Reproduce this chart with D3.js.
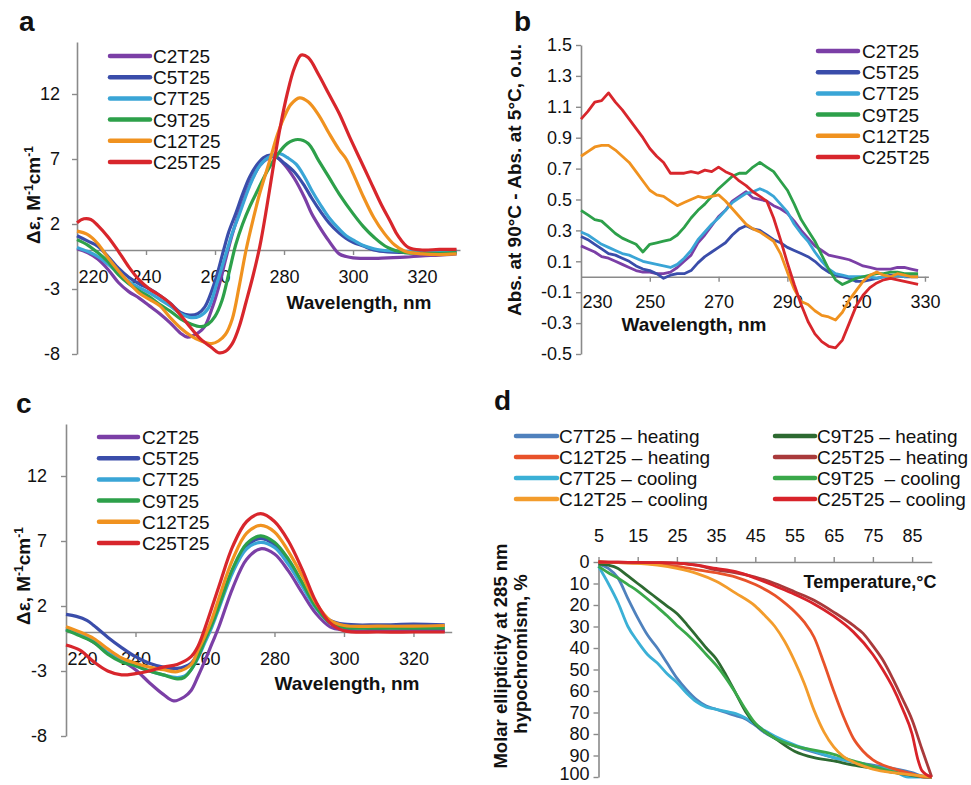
<!DOCTYPE html>
<html><head><meta charset="utf-8">
<script src="https://cdn.jsdelivr.net/npm/d3@7"></script>
<style>
body{margin:0;background:#fff;}
text{font-family:"Liberation Sans",Arial,sans-serif;fill:#111;}
</style></head><body>
<svg id="chart" width="971" height="785"></svg>
<script>
// ---------------- DATA ----------------
const seriesNames = ["C2T25","C5T25","C7T25","C9T25","C12T25","C25T25"];
const seriesColors = ["#7B3FA6","#3A4DAA","#3AA5D6","#2DA04A","#F0921F","#D8262C"];

// Panel a : CD spectra [wavelength nm, Δε]
const aC2T25 = [[220,0.1],[223,-0.2],[226,-0.7],[229,-1.5],[232,-2.5],[235,-3.2],[238,-3.7],[241,-4.3],[244,-4.9],[247,-5.6],[250,-6.4],[252,-6.7],[255,-6.4],[257,-5.9],[259,-4.6],[261,-2.9],[263,-0.8],[265,1.2],[267,2.9],[269,4.4],[271,5.6],[273,6.5],[275,7.0],[277.5,7.2],[280,6.6],[283,5.5],[286,4.0],[288,2.8],[290,1.9],[293,0.7],[296,-0.3],[298,-0.5],[300,-0.6],[305,-0.65],[310,-0.6],[315,-0.55],[320,-0.45],[325,-0.4],[330,-0.3]];
const aC5T25 = [[220,1.1],[223,0.7],[226,0.3],[229,-0.5],[232,-1.4],[235,-2.1],[238,-2.6],[241,-3.0],[244,-3.5],[247,-4.1],[250,-4.8],[252.5,-5.0],[255,-4.9],[257,-4.4],[260,-2.4],[262.5,0],[264,1.4],[266,2.8],[268,4.3],[270,5.6],[272,6.5],[274,7.1],[276,7.3],[278,7.1],[280,6.7],[283,6.0],[286,4.9],[288,4.0],[291,2.8],[293,2.1],[296,1.3],[298,0.9],[300,0.6],[303,0.3],[306,0],[310,-0.15],[320,-0.2],[330,-0.15]];
const aC7T25 = [[220,0.2],[223,-0.1],[226,-0.5],[229,-1.1],[232,-1.8],[235,-2.4],[238,-2.9],[241,-3.3],[244,-3.8],[247,-4.3],[250,-4.9],[253,-5.2],[255.5,-5.1],[258,-4.5],[260.5,-2.6],[263.5,0],[265,1.3],[267,2.7],[270,4.9],[273,6.5],[276,7.2],[279,7.4],[281,7.1],[283.5,6.6],[286,5.6],[288,4.6],[290.5,3.5],[293,2.5],[296,1.6],[298,1.1],[300.5,0.7],[303,0.35],[306,0.1],[308,0],[315,-0.1],[320,-0.1],[330,-0.05]];
const aC9T25 = [[220,0.8],[223,0.4],[226,-0.2],[229,-0.9],[232,-1.9],[235,-2.6],[238,-3.15],[241,-3.6],[244,-4.2],[247,-4.7],[250,-5.3],[253,-5.7],[256,-5.9],[258,-5.7],[260,-5.1],[262,-3.9],[264,-1.8],[266,0.4],[268,2.0],[270,3.3],[272,4.4],[275,6.0],[278,7.3],[281,8.2],[284,8.5],[287,8.2],[290,6.9],[293,5.6],[296,4.3],[300,2.8],[303,1.8],[306,1.0],[310,0.2],[315,-0.2],[320,-0.25],[325,-0.25],[330,-0.2]];
const aC12T25 = [[220,1.45],[223,1.2],[226,0.5],[229,-0.6],[232,-1.6],[235,-2.5],[238,-3.3],[241,-3.8],[244,-4.3],[247,-5.2],[250,-6.0],[253,-6.6],[256,-7.0],[259,-7.2],[261,-7.0],[263,-6.5],[265,-5.3],[267,-2.8],[269,0],[271,2.3],[273,4.4],[276,7.0],[278,8.8],[280,10.2],[282,11.2],[284.5,11.7],[287,11.4],[290,10.4],[293,9.0],[296,7.7],[298,7.0],[300,5.9],[303,4.1],[306,2.5],[309,1.3],[312,0.4],[315,-0.1],[320,-0.3],[325,-0.35],[330,-0.3]];
const aC25T25 = [[220,2.1],[222,2.4],[224,2.35],[226,1.9],[229,1.0],[232,-0.1],[235,-1.3],[238,-2.3],[241,-3.0],[244,-3.5],[247,-4.1],[250,-5.0],[253,-6.0],[256,-6.9],[259,-7.5],[261,-7.9],[263,-7.8],[265,-7.2],[267,-5.9],[269,-4.0],[271,-2.0],[273,0.3],[275,3.3],[277,6.6],[279,9.6],[281,12.1],[283,14.0],[285,15.0],[287,14.8],[290,13.5],[293,12.0],[296,10.5],[299,8.7],[302,7.0],[305,5.3],[308,3.6],[311,2.1],[313,1.1],[316,0.2],[320,0],[325,0.05],[330,0.05]];

// Panel b : absorbance difference (90°C − 5°C), shared wavelength grid
const waveB = [230,232,234,236,238,240,242,244,246,248,250,252,254,256,258,260,262,264,266,268,270,272,274,276,278,280,282,284,286,288,290,292,294,296,298,300,302,304,306,308,310,312,314,316,318,320,322,324,326,328];
const bC2T25 = [0.20,0.18,0.16,0.13,0.12,0.10,0.08,0.06,0.04,0.03,0.03,0.02,0.02,0.03,0.06,0.10,0.14,0.22,0.27,0.33,0.39,0.43,0.49,0.52,0.55,0.51,0.50,0.49,0.46,0.44,0.41,0.36,0.30,0.25,0.20,0.17,0.14,0.13,0.12,0.11,0.09,0.07,0.06,0.05,0.05,0.05,0.06,0.06,0.05,0.04];
const bC5T25 = [0.26,0.24,0.21,0.18,0.15,0.14,0.12,0.10,0.07,0.05,0.04,0.02,-0.01,0.01,0.02,0.02,0.04,0.09,0.13,0.16,0.19,0.22,0.27,0.31,0.33,0.31,0.30,0.27,0.24,0.22,0.19,0.17,0.15,0.13,0.10,0.06,0.03,0.01,0.00,-0.01,-0.03,-0.03,-0.02,-0.01,0.00,0.01,0.01,0.00,0.00,0.00];
const bC7T25 = [0.29,0.27,0.24,0.21,0.19,0.17,0.15,0.14,0.12,0.10,0.09,0.08,0.07,0.06,0.08,0.12,0.17,0.24,0.29,0.34,0.38,0.43,0.48,0.51,0.54,0.55,0.57,0.55,0.52,0.47,0.42,0.34,0.28,0.23,0.16,0.10,0.05,0.02,0.01,0.00,0.00,0.00,0.00,-0.01,0.00,0.00,0.01,0.00,0.01,0.00];
const bC9T25 = [0.43,0.40,0.37,0.36,0.32,0.28,0.25,0.23,0.21,0.16,0.21,0.22,0.23,0.24,0.27,0.32,0.38,0.43,0.47,0.52,0.57,0.61,0.65,0.67,0.67,0.71,0.74,0.71,0.68,0.62,0.56,0.47,0.37,0.30,0.23,0.14,0.05,-0.02,-0.05,-0.03,-0.01,0.00,0.01,0.02,0.02,0.03,0.03,0.02,0.02,0.02];
const bC12T25 = [0.78,0.81,0.84,0.85,0.85,0.82,0.78,0.74,0.68,0.62,0.56,0.53,0.52,0.49,0.46,0.48,0.50,0.52,0.51,0.52,0.53,0.49,0.44,0.39,0.34,0.31,0.29,0.26,0.23,0.15,0.03,-0.08,-0.16,-0.18,-0.22,-0.25,-0.26,-0.28,-0.23,-0.15,-0.09,-0.03,0.01,0.03,0.01,0.00,0.02,0.01,0.00,0.00];
const bC25T25 = [1.02,1.07,1.13,1.14,1.19,1.13,1.08,1.02,0.96,0.90,0.83,0.78,0.74,0.67,0.67,0.67,0.68,0.67,0.69,0.68,0.71,0.68,0.66,0.62,0.59,0.55,0.52,0.49,0.38,0.24,0.09,-0.05,-0.18,-0.29,-0.37,-0.42,-0.45,-0.46,-0.41,-0.30,-0.19,-0.12,-0.07,-0.04,-0.02,-0.01,-0.02,-0.03,-0.04,-0.05];

// Panel c : CD spectra [wavelength nm, Δε]
const cC2T25 = [[220,0.25],[224,-0.2],[228,-0.8],[232,-1.6],[236,-2.2],[240,-2.9],[244,-3.9],[248,-4.8],[251,-5.3],[254,-5.0],[256,-4.5],[258,-3.4],[260,-2.2],[262,-0.9],[264,0.4],[268,3.4],[272,5.6],[276,6.4],[280,6.0],[284,4.7],[288,3.0],[292,1.4],[296,0.4],[300,0.15],[310,0.1],[320,0.1],[329,0.1]];
const cC5T25 = [[220,1.35],[223,1.2],[226,0.9],[228,0.5],[232,-0.4],[236,-1.2],[240,-1.9],[244,-2.4],[248,-2.7],[252,-2.8],[256,-2.4],[258,-1.6],[260,-0.5],[262,0.7],[264,2.0],[268,4.8],[272,6.6],[276,7.2],[280,6.7],[284,5.4],[288,3.7],[292,1.9],[296,0.9],[300,0.6],[310,0.55],[320,0.6],[329,0.55]];
const cC7T25 = [[220,0.2],[224,-0.2],[228,-0.7],[232,-1.6],[236,-2.2],[240,-2.6],[244,-3.0],[248,-3.3],[252,-3.5],[254,-3.4],[256,-2.9],[258,-2.0],[260,-0.8],[262,0.4],[264,1.8],[268,4.6],[272,6.4],[276,6.9],[280,6.5],[284,5.2],[288,3.5],[292,1.8],[296,0.7],[300,0.4],[310,0.35],[320,0.35],[329,0.35]];
const cC9T25 = [[220,0.15],[224,-0.3],[228,-0.8],[232,-1.7],[236,-2.3],[240,-2.6],[244,-3.0],[248,-3.3],[252,-3.6],[254,-3.5],[256,-2.9],[258,-1.9],[260,-0.6],[262,0.6],[264,2.0],[268,4.9],[272,6.8],[276,7.4],[280,6.9],[284,5.6],[288,3.8],[292,1.9],[296,0.7],[300,0.35],[310,0.3],[320,0.3],[329,0.3]];
const cC12T25 = [[220,0.4],[224,0],[228,-0.5],[232,-1.3],[236,-2.0],[240,-2.4],[244,-2.7],[248,-2.9],[252,-3.05],[256,-2.5],[258,-1.4],[260,-0.3],[262,1.0],[264,2.6],[268,5.6],[272,7.6],[276,8.2],[280,7.7],[284,6.2],[288,4.3],[292,2.2],[296,0.9],[300,0.5],[310,0.45],[320,0.45],[329,0.5]];
const cC25T25 = [[220,-1.0],[224,-1.4],[228,-2.3],[232,-3.0],[236,-3.3],[240,-3.2],[244,-3.0],[248,-2.7],[252,-2.5],[256,-1.9],[258,-1.1],[260,0.3],[264,3.5],[268,6.6],[272,8.5],[276,9.1],[280,8.5],[284,7.0],[288,4.8],[292,2.3],[296,0.7],[300,0.1],[310,0],[320,0],[329,0]];

// Panel d : melting / annealing curves [temperature °C, hypochromism %]
const dNames = ["C7T25 – heating","C12T25 – heating","C7T25 – cooling","C12T25 – cooling","C9T25 – heating","C25T25 – heating","C9T25  – cooling","C25T25 – cooling"];
const dColors = ["#4F81BD","#E8522A","#3BB0D6","#F39C2C","#2D6A31","#A93A3B","#3AA84A","#D8232A"];
const dC7heat = [[5,1],[7.5,3],[10,7.5],[12.5,17],[15,26],[17.5,34],[20,40],[22.5,47],[25,54],[27.5,59.5],[30,64],[32.5,67],[35,68.5],[37.5,70],[40,71.5],[42.5,73],[45,76],[47.5,79.5],[50,82],[55,85.5],[60,88.5],[65,91],[70,93],[75,94.5],[80,96],[85,98],[87.5,99.5],[90,100]];
const dC12heat = [[5,0],[10,0.3],[15,0.5],[20,1],[25,2],[30,3.5],[35,5],[40,7],[45,10.5],[50,15.5],[52.5,19],[55,23],[57.5,28],[60,35],[62.5,47],[65,60],[67.5,72],[70,82],[72.5,88],[75,92],[80,96],[85,98.5],[88,100],[90,100]];
const dC7cool = [[5,2],[7.5,10],[10,19],[12.5,30],[15,37],[17.5,43],[20,47],[22.5,52],[25,56],[27.5,61],[30,65],[32.5,67.5],[35,68.5],[37.5,69.5],[40,70.5],[42.5,72.5],[45,75.5],[47.5,78.5],[50,81],[55,85],[60,88],[65,91],[70,93],[75,95],[80,97],[84,100],[90,100]];
const dC12cool = [[5,0],[10,0.3],[15,0.6],[20,1.5],[25,3],[30,5.3],[35,9],[40,14.5],[45,20.5],[47.5,25],[50,30],[52.5,37],[55,46],[57.5,56.5],[60,69],[62.5,79],[65,86],[67.5,90.5],[70,93],[75,96.3],[80,98],[85,99],[90,100]];
const dC9heat = [[5,1],[7.5,1.5],[10,3],[12.5,6.5],[15,10],[17.5,13.5],[20,17],[22.5,20.5],[25,24],[27.5,29],[30,34.5],[32.5,40],[35,45],[37.5,52.5],[40,61],[42.5,69.5],[45,75.5],[47.5,79],[50,82],[55,88],[60,91],[65,92.5],[70,94.5],[75,96],[80,97.8],[85,99.3],[90,100]];
const dC9cool = [[5,2],[7.5,5],[10,7.5],[12.5,10.5],[15,13.5],[17.5,17.2],[20,21],[22.5,25],[25,29.5],[27.5,33.5],[30,38],[32.5,43],[35,48],[37.5,54],[40,61],[42.5,68.5],[45,75],[47.5,79],[50,82],[55,85.5],[60,87.5],[65,89.5],[70,92.5],[75,95],[80,97.5],[85,99],[88,100],[90,100]];
const dC25heat = [[5,0],[10,0.1],[15,0.2],[20,0.3],[25,0.5],[30,1.5],[35,3.7],[40,5],[45,7],[50,10],[55,13.8],[60,17.8],[65,23.3],[70,29.5],[72.5,33.2],[75,39],[77.5,45.5],[80,54],[82.5,63.5],[85,73.5],[87.5,87],[90,100]];
const dC25cool = [[5,0],[10,0.1],[15,0.2],[20,0.3],[25,0.5],[30,1.5],[35,3],[40,4.5],[45,7.5],[50,11.2],[55,15],[60,19.5],[65,25.2],[70,32.5],[75,43],[77.5,50],[80,58],[82.5,68],[85,80],[86.5,92],[87.5,97],[90,100]];

// tick values
const cdTicksY = [-8,-3,2,7,12];
const cdTicksX = [220,240,260,280,300,320];
const absTicksY = [-0.5,-0.3,-0.1,0.1,0.3,0.5,0.7,0.9,1.1,1.3,1.5];
const absTicksX = [230,250,270,290,310,330];
const tempTicks = [5,15,25,35,45,55,65,75,85];
const hypoTicks = [0,10,20,30,40,50,60,70,80,90,100];

// ---------------- DRAWING ----------------
const svg = d3.select("#chart");
const AX = "#8a8a8a";
const TICKFS = 18;
const hy = f => (d => f(d).replace("\u2212","-"));

function styleAxis(g){
  g.select(".domain").attr("stroke",AX).attr("stroke-width",1.6);
  g.selectAll(".tick line").attr("stroke",AX).attr("stroke-width",1.4);
  g.selectAll(".tick text").attr("font-size",TICKFS).attr("fill","#111")
   .attr("font-family","'Liberation Sans',Arial,sans-serif");
}

function legend(x0, y0, step, names, colors, lineLen, textGap){
  const g = svg.append("g");
  names.forEach((n,i)=>{
    const y = y0 + i*step;
    g.append("line").attr("x1",x0).attr("x2",x0+lineLen).attr("y1",y).attr("y2",y)
      .attr("stroke",colors[i]).attr("stroke-width",4.5).attr("stroke-linecap","round");
    g.append("text").attr("x",x0+lineLen+textGap).attr("y",y+7).attr("font-size",19)
      .style("white-space","pre").text(n);
  });
}

function panelLetter(t,x,y){
  svg.append("text").attr("x",x).attr("y",y).attr("font-size",28).attr("font-weight","bold").text(t);
}

function cdYTitle(x,y){
  const t = svg.append("text").attr("transform",`translate(${x},${y}) rotate(-90)`)
    .attr("text-anchor","middle").attr("font-size",19).attr("font-weight","bold");
  t.append("tspan").text("Δε, M");
  t.append("tspan").attr("font-size",12).attr("dy",-7).text("-1");
  t.append("tspan").attr("dy",7).text("cm");
  t.append("tspan").attr("font-size",12).attr("dy",-7).text("-1");
}

// ----- CD panel (a and c)
function cdPanel(series, xr, yr, ox, oy){
  const x = d3.scaleLinear().domain([220,331]).range(xr);
  const y = d3.scaleLinear().domain([-8,16]).range(yr);
  const gy = svg.append("g").attr("transform",`translate(${xr[0]},0)`)
    .call(d3.axisLeft(y).tickValues(cdTicksY).tickSize(5).tickPadding(ox).tickSizeOuter(0).tickFormat(hy(d3.format("d"))));
  styleAxis(gy);
  const gx = svg.append("g").attr("transform",`translate(0,${y(0)})`)
    .call(d3.axisBottom(x).tickValues(cdTicksX).tickSize(5).tickPadding(oy).tickSizeOuter(0).tickFormat(d3.format("d")));
  styleAxis(gx);
  gx.selectAll(".tick").filter(d=>d===220).select("text").attr("text-anchor","start").attr("x",1);
  gx.selectAll(".tick").filter(d=>d===220).select("line").remove();
  const line = d3.line().x(d=>x(d[0])).y(d=>y(d[1])).curve(d3.curveCatmullRom.alpha(0.5));
  series.forEach((s,i)=>{
    svg.append("path").datum(s).attr("fill","none").attr("stroke",seriesColors[i])
      .attr("stroke-width",3.2).attr("stroke-linejoin","round").attr("d",line);
  });
  return {x,y};
}

// Panel a
panelLetter("a",19,31);
cdPanel([aC2T25,aC5T25,aC7T25,aC9T25,aC12T25,aC25T25],[77,460],[354,42],12,15);
legend(110,56,21.2,seriesNames,seriesColors,40,3);
cdYTitle(40,195);
svg.append("text").attr("x",359).attr("y",309).attr("text-anchor","middle").attr("font-size",19).attr("font-weight","bold").text("Wavelength, nm");

// Panel c
panelLetter("c",16,413);
cdPanel([cC2T25,cC5T25,cC7T25,cC9T25,cC12T25,cC25T25],[66,451.7],[736,424],14,15);
legend(99,437,21.2,seriesNames,seriesColors,39,4);
cdYTitle(30,576);
svg.append("text").attr("x",347).attr("y",690).attr("text-anchor","middle").attr("font-size",19).attr("font-weight","bold").text("Wavelength, nm");

// Panel b
panelLetter("b",514,31);
{
  const x = d3.scaleLinear().domain([230,331]).range([581,928.4]);
  const y = d3.scaleLinear().domain([-0.5,1.5]).range([354,45]);
  const gy = svg.append("g").attr("transform",`translate(581,0)`)
    .call(d3.axisLeft(y).tickValues(absTicksY).tickSize(5).tickPadding(4).tickSizeOuter(0).tickFormat(hy(d3.format(".1f"))));
  styleAxis(gy);
  const gx = svg.append("g").attr("transform",`translate(0,${y(0)})`)
    .call(d3.axisBottom(x).tickValues(absTicksX).tickSize(5).tickPadding(13).tickSizeOuter(0).tickFormat(d3.format("d")));
  styleAxis(gx);
  gx.selectAll(".tick").filter(d=>d===230).select("text").attr("text-anchor","start").attr("x",1);
  gx.selectAll(".tick").filter(d=>d===230).select("line").remove();
  const series = [bC2T25,bC5T25,bC7T25,bC9T25,bC12T25,bC25T25];
  const line = d3.line().x((d,i)=>x(waveB[i])).y(d=>y(d)).curve(d3.curveLinear);
  series.forEach((s,i)=>{
    svg.append("path").datum(s).attr("fill","none").attr("stroke",seriesColors[i])
      .attr("stroke-width",2.8).attr("stroke-linejoin","round").attr("d",line);
  });
  legend(818,51,21.2,seriesNames,seriesColors,40,4);
  svg.append("text").attr("transform","translate(521,180) rotate(-90)").attr("text-anchor","middle")
    .attr("font-size",19).attr("font-weight","bold").text("Abs. at 90°C - Abs. at 5°C, o.u.");
  svg.append("text").attr("x",694).attr("y",331).attr("text-anchor","middle").attr("font-size",19).attr("font-weight","bold").text("Wavelength, nm");
}

// Panel d
panelLetter("d",494,410);
{
  const x = d3.scaleLinear().domain([5,90]).range([598.5,931.7]);
  const y = d3.scaleLinear().domain([0,100]).range([562,777]);
  const gx = svg.append("g").attr("transform",`translate(0,562)`)
    .call(d3.axisTop(x).tickValues(tempTicks).tickSize(5).tickPadding(15).tickSizeOuter(0));
  styleAxis(gx);
  const gy = svg.append("g").attr("transform",`translate(598.5,0)`)
    .call(d3.axisLeft(y).tickValues(hypoTicks).tickSize(5).tickPadding(4).tickSizeOuter(0));
  styleAxis(gy);
  gy.selectAll(".tick").filter(d=>d===100).select("text").attr("dy","0.15em");
  const series = [dC7heat,dC12heat,dC7cool,dC12cool,dC9heat,dC25heat,dC9cool,dC25cool];
  const order = [0,2,4,6,1,3,5,7];
  const line = d3.line().x(d=>x(d[0])).y(d=>y(d[1])).curve(d3.curveMonotoneX);
  order.forEach(i=>{
    svg.append("path").datum(series[i]).attr("fill","none").attr("stroke",dColors[i])
      .attr("stroke-width",2.8).attr("stroke-linejoin","round").attr("d",line);
  });
  legend(516,436,21,dNames.slice(0,4),dColors.slice(0,4),41,2);
  legend(775,436,21,dNames.slice(4),dColors.slice(4),40,2);
  svg.append("text").attr("x",870).attr("y",588).attr("text-anchor","middle").attr("font-size",18).attr("font-weight","bold").text("Temperature,°C");
  svg.append("text").attr("transform","translate(507,656) rotate(-90)").attr("text-anchor","middle")
    .attr("font-size",18.5).attr("font-weight","bold").text("Molar ellipticity at 285 nm");
  svg.append("text").attr("transform","translate(527,654) rotate(-90)").attr("text-anchor","middle")
    .attr("font-size",18.5).attr("font-weight","bold").text("hypochromism, %");
}
</script></body></html>
